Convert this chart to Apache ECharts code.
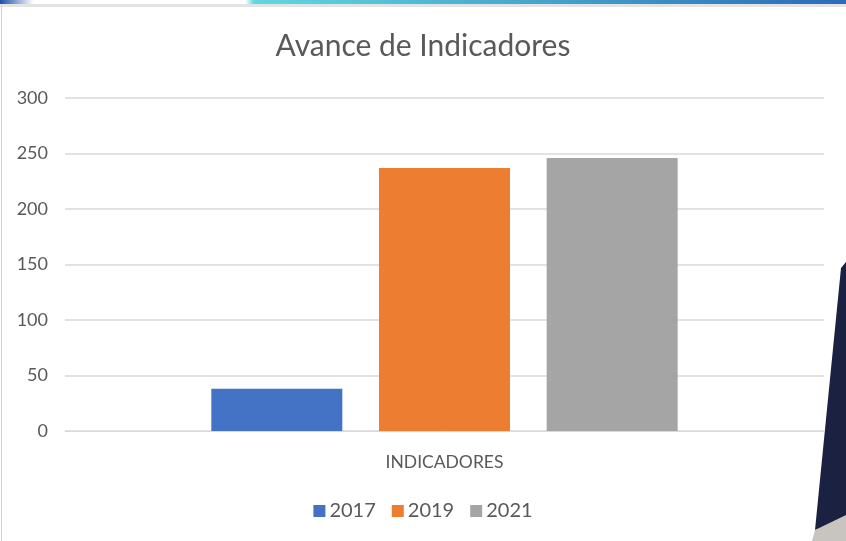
<!DOCTYPE html>
<html>
<head>
<meta charset="utf-8">
<script src="https://cdn.jsdelivr.net/npm/echarts@6/dist/echarts.min.js"></script>
<style>html,body{margin:0;padding:0;background:#fff;}#c{width:846px;height:541px;}</style>
</head>
<body>
<div id="c"></div>
<script>
const categories = ['INDICADORES'];
const seriesNames = ['2017', '2019', '2021'];
const values2017 = [38];
const values2019 = [237];
const values2021 = [246];
const yTicks = [0, 50, 100, 150, 200, 250, 300];

const colors = ['#4472C4', '#ED7D31', '#A5A5A5'];
const allValues = [values2017, values2019, values2021];
const chart = echarts.init(document.getElementById('c'), null, {renderer: 'canvas'});
const font = 'Lato, "Open Sans", sans-serif';
chart.setOption({
  backgroundColor: '#ffffff',
  animation: false,
  color: colors,
  title: {
    text: 'Avance de Indicadores',
    left: 'center', top: 26,
    textStyle: {fontFamily: font, fontSize: 30, fontWeight: 'normal', color: '#595959'}
  },
  legend: {
    bottom: 15, left: 'center',
    itemWidth: 12, itemHeight: 12, itemGap: 16,
    icon: 'rect',
    textStyle: {fontFamily: font, fontSize: 20, color: '#595959', padding: [0,0,0,-1]},
    data: seriesNames
  },
  grid: {left: 65, right: 22, top: 98, bottom: 110},
  xAxis: {
    type: 'category', data: categories,
    axisLine: {lineStyle: {color: '#D9D9D9', width: 1}},
    axisTick: {show: false},
    axisLabel: {fontFamily: font, fontSize: 17.5, color: '#595959', margin: 22}
  },
  yAxis: {
    type: 'value', min: yTicks[0], max: yTicks[yTicks.length - 1], interval: 50,
    axisLine: {show: false}, axisTick: {show: false},
    splitLine: {lineStyle: {color: '#D9D9D9', width: 1.5}},
    axisLabel: {fontFamily: font, fontSize: 18, color: '#595959', margin: 17}
  },
  series: seriesNames.map((n, i) => ({
    name: n, type: 'bar', data: allValues[i],
    barWidth: 131, barGap: '28%',
    itemStyle: {color: colors[i]}
  })),
  graphic: [
    {type: 'rect', shape: {x: 0, y: 0, width: 846, height: 4}, style: {fill: {type: 'linear', x: 0, y: 0, x2: 1, y2: 0, colorStops: [{offset: 0, color: '#1E4FA8'}, {offset: 0.04, color: '#ffffff'}, {offset: 0.29, color: '#ffffff'}, {offset: 0.3, color: '#5FD8E0'}, {offset: 1, color: '#2A6CB8'}]}}, silent: true},
    {type: 'rect', shape: {x: 0, y: 4, width: 846, height: 3}, style: {fill: '#E3E3E3'}, silent: true},
    {type: 'rect', shape: {x: 1, y: 6, width: 1, height: 535}, style: {fill: '#D0D0D0'}, silent: true},
    {type: 'polygon', shape: {points: [[846, 262], [846, 520], [815, 530], [841, 268]]}, style: {fill: '#1B2140'}, silent: true},
    {type: 'polygon', shape: {points: [[815, 530], [846, 515], [846, 541], [812, 541]]}, style: {fill: '#C8C4C0'}, silent: true}
  ]
});
</script>
</body>
</html>
